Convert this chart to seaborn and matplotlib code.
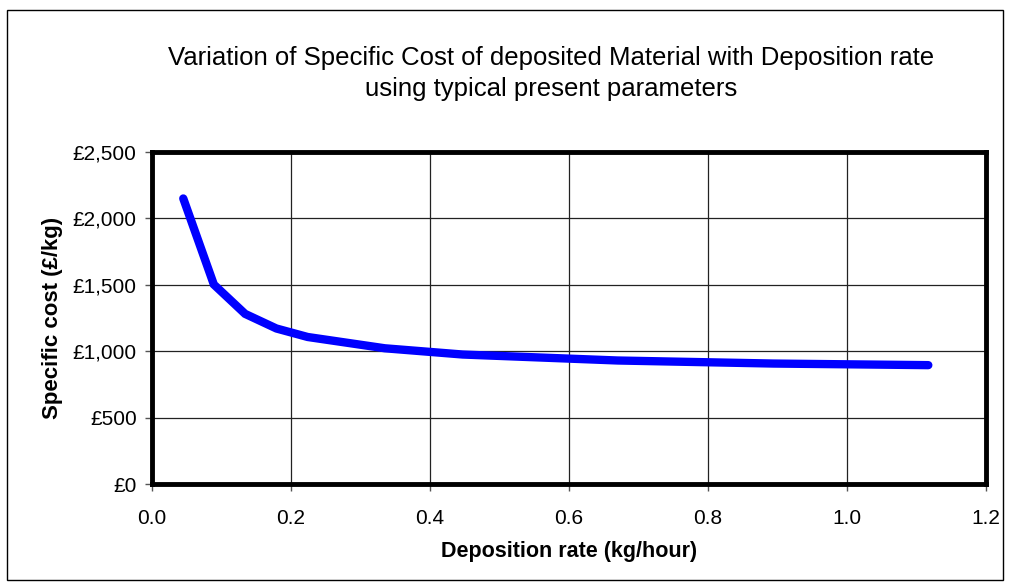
import pandas as pd
import seaborn as sns
import matplotlib.pyplot as plt
from matplotlib.ticker import FuncFormatter
from matplotlib.patches import Rectangle

# Data
rate = [0.045, 0.089, 0.134, 0.179, 0.224, 0.335, 0.447, 0.670, 0.894, 1.117]
cost = [2150, 1502, 1281, 1171, 1107, 1022, 975, 930, 907, 895]

df = pd.DataFrame({'rate': rate, 'cost': cost})

sns.set_style("white")
plt.rcParams['font.family'] = ['Liberation Sans', 'DejaVu Sans']
plt.rcParams['text.color'] = 'black'
plt.rcParams['xtick.color'] = 'black'
plt.rcParams['ytick.color'] = 'black'
plt.rcParams['axes.labelcolor'] = 'black'

fig = plt.figure(figsize=(10.1, 5.87), dpi=100)
ax = fig.add_axes([152 / 1010, 1 - 484 / 587, 834 / 1010, 332 / 587])

sns.lineplot(data=df, x='rate', y='cost', ax=ax, color='#0000ff',
             linewidth=6, solid_capstyle='round', solid_joinstyle='miter')

ax.set_xlim(0, 1.2)
ax.set_ylim(0, 2500)
ax.set_xticks([0.0, 0.2, 0.4, 0.6, 0.8, 1.0, 1.2])
ax.set_yticks([0, 500, 1000, 1500, 2000, 2500])
ax.xaxis.set_major_formatter(FuncFormatter(lambda v, p: f'{v:.1f}'))
ax.yaxis.set_major_formatter(FuncFormatter(lambda v, p: f'£{v:,.0f}'))
ax.grid(True, color='#222222', linewidth=0.9)
ax.set_axisbelow(True)

for s in ax.spines.values():
    s.set_linewidth(3.5)
    s.set_color('black')

ax.tick_params(axis='both', which='major', length=5, width=1, color='#555555',
               direction='out', labelsize=15, bottom=True, left=True)
ax.tick_params(axis='x', pad=13)
ax.tick_params(axis='y', pad=6)

ax.set_xlabel('Deposition rate (kg/hour)', fontsize=15.5, fontweight='bold', labelpad=9)
ax.set_ylabel('Specific cost (£/kg)', fontsize=16, fontweight='bold', labelpad=7)

fig.text(551 / 1010, 1 - 58 / 587,
         'Variation of Specific Cost of deposited Material with Deposition rate',
         ha='center', va='center', fontsize=18.5)
fig.text(551 / 1010, 1 - 89 / 587, 'using typical present parameters',
         ha='center', va='center', fontsize=18.5)

# outer chart border
fig.patches.append(Rectangle((7 / 1010, 1 - 580 / 587), 996 / 1010, 570 / 587,
                             transform=fig.transFigure, fill=False,
                             edgecolor='black', linewidth=1))

fig.savefig('out.png', dpi=100)
